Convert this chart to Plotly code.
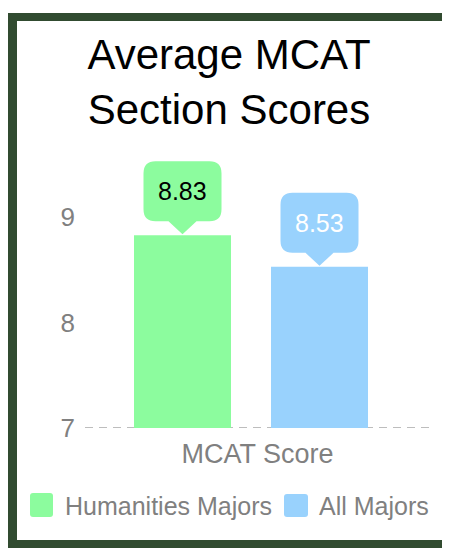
import plotly.graph_objects as go

# ---- data ----
series_names = ["Humanities Majors", "All Majors"]
series_values = [8.83, 8.53]
series_colors = ["#8CFC9E", "#99D2FD"]
label_colors = ["#000000", "#FFFFFF"]
tick_values = [7, 8, 9]
tick_labels = ["7", "8", "9"]
x_title = "MCAT Score"
chart_title = "Average MCAT<br>Section Scores"

OFF = 8  # page body margin
W, H = 450 - OFF, 548 - OFF
L, R, T, B = 77, 20, 104, 120
PW, PH = W - L - R, H - T - B
FONT = "Liberation Sans, Arial, sans-serif"
GRAY = "#808080"
FRAME = "#314B30"

def px2paper_x(px):  # px in screenshot coordinates
    return (px - OFF - L) / PW

def px2paper_y(py):
    return (H - B - (py - OFF)) / PH

def rounded_rect(x0, y0, x1, y1, r):
    return (f"M{x0+r},{y0} L{x1-r},{y0} Q{x1},{y0} {x1},{y0+r} L{x1},{y1-r} "
            f"Q{x1},{y1} {x1-r},{y1} L{x0+r},{y1} Q{x0},{y1} {x0},{y1-r} "
            f"L{x0},{y0+r} Q{x0},{y0} {x0+r},{y0} Z")

def callout_path():
    # pixel coords relative to anchor (bar top centre), y up
    hw, b, t, r, pw = 39, 14, 74, 12, 14
    return (f"M0,1 L{-pw},{b} L{-hw+r},{b} Q{-hw},{b} {-hw},{b+r} L{-hw},{t-r} "
            f"Q{-hw},{t} {-hw+r},{t} L{hw-r},{t} Q{hw},{t} {hw},{t-r} L{hw},{b+r} "
            f"Q{hw},{b} {hw-r},{b} L{pw},{b} Z")

fig = go.Figure()
for i, (name, val, col) in enumerate(zip(series_names, series_values, series_colors)):
    fig.add_trace(go.Bar(x=[i], y=[val], base=0, name=name, marker_color=col,
                         marker_line_width=0, width=0.708, showlegend=False,
                         hoverinfo="skip"))

shapes = []
annotations = []

# baseline dashed line at y = 7
shapes.append(dict(type="line", xref="paper", yref="y", x0=0, x1=1,
                   y0=tick_values[0], y1=tick_values[0], layer="below",
                   line=dict(color="#BDBDBD", width=2, dash="8px,6px")))

# callouts
for i, (val, col, lc) in enumerate(zip(series_values, series_colors, label_colors)):
    shapes.append(dict(type="path", xref="x", yref="y", xsizemode="pixel",
                       ysizemode="pixel", xanchor=i, yanchor=val,
                       path=callout_path(), fillcolor=col,
                       line=dict(width=0)))
    annotations.append(dict(x=i, y=val, xref="x", yref="y", text=f"{val:.2f}",
                            showarrow=False, yshift=44, yanchor="middle",
                            font=dict(family=FONT, size=25, color=lc)))

# manual legend
legend_items = [(30, 53, 493, 517, 63), (284, 308, 494, 517, 317)]
for (x0, x1, y0, y1, tx), name, col in zip(legend_items, series_names, series_colors):
    cx, cy = px2paper_x((x0 + x1) / 2), px2paper_y((y0 + y1) / 2)
    hw, hh = (x1 - x0) / 2, (y1 - y0) / 2
    shapes.append(dict(type="path", xref="paper", yref="paper", xsizemode="pixel",
                       ysizemode="pixel", xanchor=cx, yanchor=cy,
                       path=rounded_rect(-hw, -hh, hw, hh, 3), fillcolor=col,
                       line=dict(width=0)))
    annotations.append(dict(x=px2paper_x(tx), y=px2paper_y(505.5), xref="paper",
                            yref="paper", text=name, showarrow=False,
                            xanchor="left", yanchor="middle",
                            font=dict(family=FONT, size=25, color=GRAY)))

# frame (screenshot coordinates)
frame_rects = [(0, 17, 13, 560), (0, 460, 0, 21), (444, 460, 13, 560), (0, 460, 540, 560)]
for x0, x1, y0, y1 in frame_rects:
    shapes.append(dict(type="rect", xref="paper", yref="paper",
                       x0=px2paper_x(max(x0, 7)), x1=px2paper_x(x1),
                       y0=px2paper_y(y1), y1=px2paper_y(max(y0, 13)),
                       fillcolor=FRAME, line=dict(width=0), layer="above"))

fig.update_layout(
    width=W, height=H,
    margin=dict(l=L, r=R, t=T, b=B, autoexpand=False),
    paper_bgcolor="white", plot_bgcolor="white",
    font=dict(family=FONT),
    title=dict(text=chart_title, x=0.5, xref="container", xanchor="center",
               y=1 - 61 / H, yref="container", yanchor="top",
               font=dict(family=FONT, size=42, color="black")),
    barmode="overlay",
    showlegend=False,
    xaxis=dict(range=[-0.7117, 1.8066], showticklabels=False, showgrid=False,
               zeroline=False, showline=False, ticks="", fixedrange=True,
               title=dict(text=x_title, standoff=16,
                          font=dict(family=FONT, size=27, color=GRAY))),
    yaxis=dict(range=[7, 10], tickvals=tick_values, ticktext=tick_labels,
               showgrid=False, zeroline=False, showline=False, ticks="",
               ticklabelstandoff=9, fixedrange=True,
               tickfont=dict(family=FONT, size=26, color=GRAY)),
    shapes=shapes,
    annotations=annotations,
)

fig.write_html("out.html")
